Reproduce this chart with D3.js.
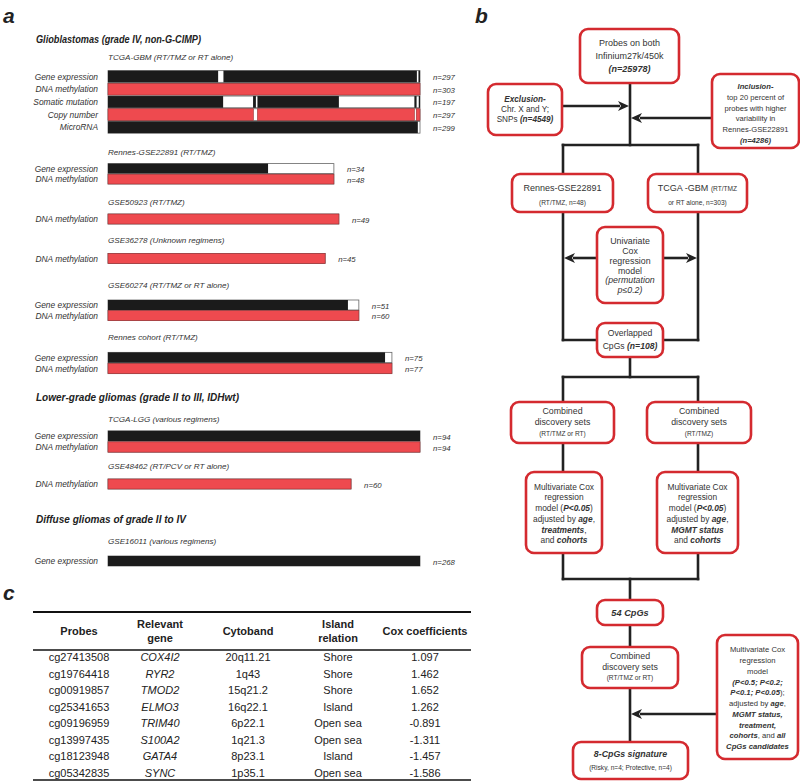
<!DOCTYPE html>
<html><head><meta charset="utf-8">
<script src="https://cdn.jsdelivr.net/npm/d3@7"></script>
<style>
html,body{margin:0;padding:0;background:#fff;}
svg{display:block;font-family:"Liberation Sans",Arial,sans-serif;}
</style></head>
<body><svg id="c" width="800" height="781"></svg>
<script>
// ---------- DATA ----------
const sections = ["Glioblastomas (grade IV, non-G-CIMP)", "Lower-grade gliomas (grade II to III, IDHwt)", "Diffuse gliomas of grade II to IV"];
const cohorts = ["TCGA-GBM (RT/TMZ or RT alone)", "Rennes-GSE22891 (RT/TMZ)", "GSE50923 (RT/TMZ)", "GSE36278 (Unknown regimens)", "GSE60274 (RT/TMZ or RT alone)", "Rennes cohort (RT/TMZ)", "TCGA-LGG (various regimens)", "GSE48462 (RT/PCV or RT alone)", "GSE16011 (various regimens)"];
const rowCohort = [0,0,0,0,0,1,1,2,3,4,4,5,5,6,6,7,8];
const rowType = ["Gene expression","DNA methylation","Somatic mutation","Copy number","MicroRNA","Gene expression","DNA methylation","DNA methylation","DNA methylation","Gene expression","DNA methylation","Gene expression","DNA methylation","Gene expression","DNA methylation","DNA methylation","Gene expression"];
const rowN = [297,303,197,297,299,34,48,49,45,51,60,75,77,94,94,60,268];
const rowExtent = [100,100,100,100,100,72.4,72.4,74.0,69.6,80.4,80.4,91.0,91.0,100,100,77.9,100];
const rowSegments = [
  [[0,35.3],[37.0,99.0],[99.5,100]],
  [[0,100]],
  [[0,36.9],[46.5,47.4],[47.9,74.0],[98.2,98.9],[99.6,100]],
  [[0,46.6],[47.9,98.2],[98.8,100]],
  [[0,99.3]],
  [[0,51.3]],[[0,72.4]],
  [[0,74.0]],
  [[0,69.6]],
  [[0,76.9]],[[0,80.4]],
  [[0,88.8]],[[0,91.0]],
  [[0,100]],[[0,100]],
  [[0,77.9]],
  [[0,100]]
];
const redTypes = ["DNA methylation","Copy number"];

const tableHeader = [["Probes"],["Relevant","gene"],["Cytoband"],["Island","relation"],["Cox coefficients"]];
const probes = ["cg27413508","cg19764418","cg00919857","cg25341653","cg09196959","cg13997435","cg18123948","cg05342835"];
const genes = ["COX4I2","RYR2","TMOD2","ELMO3","TRIM40","S100A2","GATA4","SYNC"];
const cytobands = ["20q11.21","1q43","15q21.2","16q22.1","6p22.1","1q21.3","8p23.1","1p35.1"];
const islands = ["Shore","Shore","Shore","Island","Open sea","Open sea","Island","Open sea"];
const coxCoef = ["1.097","1.462","1.652","1.262","-0.891","-1.311","-1.457","-1.586"];

// ---------- LAYOUT ----------
const svg = d3.select("#c");
const RED = "#ee4a4f", BLACK = "#1b1b1b", BOXRED = "#d42a2f", LINE = "#222";

function label(t, x, y, opts) {
  const el = svg.append("text").attr("x", x).attr("y", y).text(t)
    .attr("font-size", opts.fs || 8).attr("font-style", opts.it ? "italic" : null)
    .attr("font-weight", opts.b ? "bold" : null).attr("fill", opts.fill || "#333")
    .attr("text-anchor", opts.anchor || "start").attr("dominant-baseline", "central");
  if (opts.len) el.attr("textLength", opts.len).attr("lengthAdjust", "spacingAndGlyphs");
  return el;
}

// panel letters
label("a", 3, 15, {fs: 21, it: true, b: true, fill: "#222"});
label("b", 475, 15, {fs: 21, it: true, b: true, fill: "#222"});
label("c", 3, 592, {fs: 21, it: true, b: true, fill: "#222"});

// ---------- PANEL A ----------
const x = d3.scaleLinear().domain([0, 100]).range([108, 420]);
const sectionY = [39, 397, 519];
const sectionLen = [165, 203, 150];
const cohortTitleY = [57, 152, 202, 240, 285, 337, 419, 466, 541];
const cohortFirstRow = [76.5, 168.5, 219, 258.5, 305, 357.5, 436, 484, 561];
const cohortPitch = [12.7, 10.6, 10.6, 10.6, 10.6, 11, 11, 10.6, 10.6];
const cohortBarH = [11.7, 9.8, 10, 10, 10, 10.3, 10.3, 10, 10];

sections.forEach((s, i) => label(s, 36, sectionY[i], {fs: 10, it: true, b: true, fill: "#222", len: sectionLen[i]}));
cohorts.forEach((c, i) => label(c, 108, cohortTitleY[i], {fs: 8.1, it: true}));

const rows = rowType.map((t, i) => {
  const c = rowCohort[i];
  const idx = rowCohort.slice(0, i).filter(v => v === c).length;
  return {type: t, c, cy: cohortFirstRow[c] + idx * cohortPitch[c], h: cohortBarH[c],
    n: rowN[i], ext: rowExtent[i], segs: rowSegments[i]};
});

const gA = svg.append("g");
const rg = gA.selectAll("g.row").data(rows).join("g").attr("class", "row");
rg.append("rect").attr("x", x(0)).attr("y", d => d.cy - d.h / 2)
  .attr("width", d => x(d.ext) - x(0)).attr("height", d => d.h)
  .attr("fill", "#fff").attr("stroke", "#666").attr("stroke-width", 0.8);
rg.each(function(d) {
  const col = redTypes.includes(d.type) ? RED : BLACK;
  d3.select(this).selectAll("rect.seg").data(d.segs).join("rect").attr("class", "seg")
    .attr("x", s => x(s[0])).attr("y", d.cy - d.h / 2)
    .attr("width", s => x(s[1]) - x(s[0])).attr("height", d.h)
    .attr("fill", col).attr("stroke", col === RED ? "#9a3033" : "none").attr("stroke-width", 0.6);
});
rg.append("text").attr("x", 98).attr("y", d => d.cy).attr("text-anchor", "end")
  .attr("dominant-baseline", "central").attr("font-size", 8.4).attr("font-style", "italic")
  .attr("fill", "#333").text(d => d.type);
rg.append("text").attr("x", d => x(d.ext) + 13).attr("y", d => d.cy + 1)
  .attr("dominant-baseline", "central").attr("font-size", 7.8).attr("font-style", "italic")
  .attr("fill", "#333").text(d => "n=" + d.n);

// ---------- PANEL B ----------
const boxes = [
  {x:580,y:29,w:99,h:54,fs:9,ly:[43,56,69],lines:[[["Probes on both"]],[["Infinium27k/450k"]],[["(n=25978)","bi"]]]},
  {x:488,y:84,w:74,h:51,fs:8.2,ly:[99,109,119],lines:[[["Exclusion-","bi"]],[["Chr. X and Y;"]],[["SNPs "],["(n=4549)","bi"]]]},
  {x:712,y:74,w:87,h:74,fs:7.6,ly:[86,97,108,118,129,140],lines:[[["Inclusion-","bi"]],[["top 20 percent of"]],[["probes with higher"]],[["variability in"]],[["Rennes-GSE22891"]],[["(n=4286)","bi"]]]},
  {x:512,y:174,w:101,h:38,fs:9,ly:[188,202],lines:[[["Rennes-GSE22891"]],[["(RT/TMZ, n=48)","s"]]]},
  {x:648,y:174,w:99,h:38,fs:9,ly:[188,202],lines:[[["TCGA -GBM "],["(RT/TMZ","s"]],[["or RT alone, n=303)","s"]]]},
  {x:597,y:227,w:66,h:76,fs:8.8,ly:[241,251,261,271,280,290],lines:[[["Univariate"]],[["Cox"]],[["regression"]],[["model"]],[["(permutation","i"]],[["p≤0.2)","i"]]]},
  {x:597,y:323,w:66,h:34,fs:8.6,ly:[333,346],lines:[[["Overlapped"]],[["CpGs "],["(n=108)","bi"]]]},
  {x:511,y:402,w:103,h:41,fs:8.8,ly:[411,422,433],lines:[[["Combined"]],[["discovery sets"]],[["(RT/TMZ or RT)","s"]]]},
  {x:647,y:402,w:104,h:41,fs:8.8,ly:[411,422,433],lines:[[["Combined"]],[["discovery sets"]],[["(RT/TMZ)","s"]]]},
  {x:526,y:472,w:76,h:81,fs:8.4,ly:[487,497,508,519,530,540],lines:[[["Multivariate Cox"]],[["regression"]],[["model ("],["P<0.05","bi"],[")"]],[["adjusted by "],["age","bi"],[","]],[["treatments","bi"],[","]],[["and "],["cohorts","bi"]]]},
  {x:657,y:472,w:81,h:81,fs:8.4,ly:[487,497,508,519,530,540],lines:[[["Multivariate Cox"]],[["regression"]],[["model ("],["P<0.05","bi"],[")"]],[["adjusted by "],["age","bi"],[","]],[["MGMT status","bi"]],[["and "],["cohorts","bi"]]]},
  {x:597,y:600,w:66,h:25,fs:9.2,ly:[612.5],lines:[[["54 CpGs","bi"]]]},
  {x:582,y:647,w:96,h:41,fs:8.8,ly:[656,667,677],lines:[[["Combined"]],[["discovery sets"]],[["(RT/TMZ or RT)","s"]]]},
  {x:717,y:635,w:81,h:124,fs:7.7,ly:[649,660,671,682,692,703,714,725,735,746],lines:[[["Multivariate Cox"]],[["regression"]],[["model"]],[["(P<0.5; P<0.2;","bi"]],[["P<0.1; P<0.05","bi"],[");"]],[["adjusted by "],["age","bi"],[","]],[["MGMT status,","bi"]],[["treatment,","bi"]],[["cohorts","bi"],[", and "],["all","bi"]],[["CpGs candidates","bi"]]]},
  {x:573,y:742,w:115,h:37,fs:8.8,ly:[754,767],lines:[[["8-CpGs signature","bi"]],[["(Risky, n=4; Protective, n=4)","s"]]]}
];
const connectors = [
  [630,83,630,145],[563,145,698,145],[563,145,563,174],[698,145,698,174],
  [563,212,563,340],[698,212,698,340],[563,340,597,340],[663,340,698,340],
  [630,357,630,377],[563,377,698,377],[563,377,563,402],[698,377,698,402],
  [563,443,563,472],[698,443,698,472],
  [563,553,563,579],[698,553,698,579],[563,579,698,579],[630,579,630,600],
  [630,625,630,647],[630,688,630,742]
];
const arrows = [[562,106,629,106],[712,118,631,118],[597,258,564,258],[663,258,697,258],[717,714,631,714]];

const gB = svg.append("g");
gB.selectAll("line.con").data(connectors).join("line").attr("class","con")
  .attr("x1", d=>d[0]).attr("y1", d=>d[1]).attr("x2", d=>d[2]).attr("y2", d=>d[3])
  .attr("stroke", LINE).attr("stroke-width", 2.6).attr("stroke-linecap", "square");
arrows.forEach(a => {
  const dir = Math.sign(a[2] - a[0]);
  const hl = 11, hw = 5;
  gB.append("line").attr("x1", a[0]).attr("y1", a[1]).attr("x2", a[2] - dir * (hl - 2)).attr("y2", a[3])
    .attr("stroke", LINE).attr("stroke-width", 2.6);
  gB.append("path").attr("d", `M${a[2]},${a[3]} L${a[2]-dir*hl},${a[3]-hw} L${a[2]-dir*(hl-3)},${a[3]} L${a[2]-dir*hl},${a[3]+hw} Z`)
    .attr("fill", LINE);
});
const bg = gB.selectAll("g.box").data(boxes).join("g").attr("class","box");
bg.append("rect").attr("x", d=>d.x).attr("y", d=>d.y).attr("width", d=>d.w).attr("height", d=>d.h)
  .attr("rx", 8).attr("fill", "#fff").attr("stroke", BOXRED).attr("stroke-width", 2.6);
bg.each(function(d) {
  const g = d3.select(this);
  d.lines.forEach((ln, i) => {
    const t = g.append("text").attr("x", d.x + d.w / 2).attr("y", d.ly[i])
      .attr("text-anchor", "middle").attr("dominant-baseline", "central")
      .attr("font-size", d.fs).attr("fill", "#333");
    ln.forEach(run => {
      const st = run[1] || "";
      t.append("tspan").text(run[0])
        .attr("font-style", st.includes("i") ? "italic" : null)
        .attr("font-weight", st.includes("b") ? "bold" : null)
        .attr("font-size", st === "s" ? 6.6 : null);
    });
  });
});

// ---------- PANEL C ----------
const colX = [79, 160, 248, 338, 425];
const tableL = 33, tableR = 471;
const gC = svg.append("g");
gC.append("line").attr("x1", tableL).attr("x2", tableR).attr("y1", 612).attr("y2", 612).attr("stroke", "#111").attr("stroke-width", 2);
gC.append("line").attr("x1", tableL).attr("x2", tableR).attr("y1", 650).attr("y2", 650).attr("stroke", "#111").attr("stroke-width", 1.6);
gC.append("line").attr("x1", tableL).attr("x2", tableR).attr("y1", 780).attr("y2", 780).attr("stroke", "#111").attr("stroke-width", 1.6);
tableHeader.forEach((h, i) => {
  h.forEach((t, j) => {
    const y = h.length === 1 ? 631 : 624 + j * 14;
    gC.append("text").attr("x", colX[i]).attr("y", y).attr("text-anchor", "middle")
      .attr("dominant-baseline", "central").attr("font-size", 11).attr("font-weight", "bold")
      .attr("fill", "#222").text(t);
  });
});
const rowYScale = d3.scaleBand().domain(d3.range(probes.length)).range([649, 781]);
const cols = [probes, genes, cytobands, islands, coxCoef];
cols.forEach((col, ci) => {
  gC.selectAll("text.c" + ci).data(col).join("text").attr("class", "c" + ci)
    .attr("x", colX[ci]).attr("y", (d, i) => rowYScale(i) + rowYScale.bandwidth() / 2)
    .attr("text-anchor", "middle").attr("dominant-baseline", "central")
    .attr("font-size", 11).attr("font-style", ci === 1 ? "italic" : null)
    .attr("fill", "#222").text(d => d);
});
</script>
</body></html>
